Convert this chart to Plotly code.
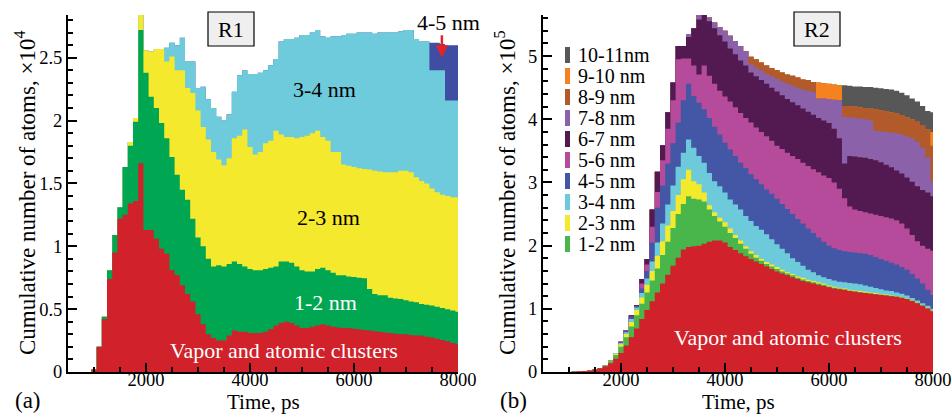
import plotly.graph_objects as go

SERIF = "'Liberation Serif', 'Times New Roman', Times, 'DejaVu Serif', serif"
BIN = 100  # ps, width of each time bin

# ---------------- (a) R1: cumulative atoms (x10^4), bins centred on time_a ----------------
time_a = list(range(1000, 8001, 100))

a_vapor = [0.02, 0.20, 0.42, 0.74, 0.95, 1.22, 1.25, 1.34, 1.36, 1.66,
           1.13, 1.13, 1.06, 0.98, 0.94, 0.81, 0.77, 0.69, 0.62, 0.56,
           0.46, 0.38, 0.30, 0.27, 0.25, 0.25, 0.29, 0.33, 0.32, 0.32,
           0.31, 0.31, 0.31, 0.32, 0.34, 0.37, 0.39, 0.40, 0.39, 0.37,
           0.35, 0.35, 0.36, 0.37, 0.38, 0.37, 0.36, 0.355, 0.35, 0.35,
           0.345, 0.34, 0.335, 0.33, 0.325, 0.32, 0.315, 0.31, 0.305, 0.30,
           0.30, 0.295, 0.29, 0.29, 0.28, 0.275, 0.265, 0.255, 0.245, 0.23, 0.22]
a_top_1_2 = [0.02, 0.20, 0.44, 0.81, 1.09, 1.31, 1.63, 1.80, 1.99, 2.72,
             2.38, 2.19, 2.10, 1.98, 1.86, 1.71, 1.57, 1.45, 1.37, 1.22,
             1.07, 1.00, 0.90, 0.84, 0.85, 0.84, 0.86, 0.88, 0.86, 0.84,
             0.82, 0.81, 0.81, 0.82, 0.83, 0.84, 0.88, 0.88, 0.87, 0.84,
             0.81, 0.80, 0.80, 0.82, 0.83, 0.81, 0.79, 0.77, 0.77, 0.76,
             0.755, 0.75, 0.745, 0.66, 0.62, 0.61, 0.61, 0.59, 0.585, 0.58,
             0.57, 0.56, 0.555, 0.54, 0.535, 0.53, 0.52, 0.51, 0.50, 0.49, 0.48]
a_top_2_3 = [0.02, 0.20, 0.44, 0.81, 1.09, 1.31, 1.63, 1.83, 2.02, 2.84,
             2.56, 2.55, 2.57, 2.57, 2.47, 2.51, 2.40, 2.40, 2.26, 2.22,
             2.08, 1.95, 1.85, 1.75, 1.69, 1.645, 1.70, 1.86, 1.88, 1.93,
             1.79, 1.73, 1.75, 1.82, 1.84, 1.92, 1.89, 1.87, 1.87, 1.86,
             1.87, 1.88, 1.90, 1.92, 1.87, 1.84, 1.75, 1.75, 1.65, 1.64,
             1.63, 1.62, 1.615, 1.61, 1.60, 1.595, 1.59, 1.59, 1.59, 1.60,
             1.60, 1.59, 1.55, 1.52, 1.50, 1.46, 1.43, 1.41, 1.40, 1.39, 1.39]
a_top_3_4 = [0.02, 0.20, 0.44, 0.81, 1.09, 1.31, 1.63, 1.83, 2.02, 2.84,
             2.56, 2.55, 2.57, 2.57, 2.58, 2.62, 2.60, 2.66, 2.47, 2.47,
             2.26, 2.27, 2.17, 2.10, 2.03, 2.00, 2.05, 2.23, 2.36, 2.40,
             2.37, 2.37, 2.38, 2.40, 2.44, 2.49, 2.63, 2.65, 2.65, 2.66,
             2.68, 2.68, 2.70, 2.72, 2.67, 2.66, 2.67, 2.67, 2.68, 2.69,
             2.69, 2.70, 2.70, 2.70, 2.69, 2.70, 2.70, 2.70, 2.70, 2.71,
             2.72, 2.72, 2.65, 2.63, 2.63, 2.40, 2.40, 2.40, 2.16, 2.16, 2.16]
a_top_4_5 = [0.02, 0.20, 0.44, 0.81, 1.09, 1.31, 1.63, 1.83, 2.02, 2.84,
             2.56, 2.55, 2.57, 2.57, 2.58, 2.62, 2.60, 2.66, 2.47, 2.47,
             2.26, 2.27, 2.17, 2.10, 2.03, 2.00, 2.05, 2.23, 2.36, 2.40,
             2.37, 2.37, 2.38, 2.40, 2.44, 2.49, 2.63, 2.65, 2.65, 2.66,
             2.68, 2.68, 2.70, 2.72, 2.67, 2.66, 2.67, 2.67, 2.68, 2.69,
             2.69, 2.70, 2.70, 2.70, 2.69, 2.70, 2.70, 2.70, 2.70, 2.71,
             2.72, 2.72, 2.65, 2.63, 2.63, 2.62, 2.62, 2.61, 2.60, 2.60, 2.60]

# ---------------- (b) R2: cumulative atoms (x10^5), bins centred on time_b ----------------
time_b = list(range(1100, 8001, 100))

b_vapor = [0.005, 0.01, 0.015, 0.025, 0.04, 0.06, 0.09, 0.14, 0.21,
           0.30, 0.42, 0.55, 0.69, 0.84, 0.98, 1.12, 1.26, 1.40, 1.54,
           1.68, 1.81, 1.94, 1.98, 1.99, 2.00, 2.03, 2.06, 2.08, 2.08,
           2.05, 1.98, 1.93, 1.88, 1.83, 1.79, 1.75, 1.71, 1.67, 1.63,
           1.59, 1.56, 1.53, 1.50, 1.47, 1.44, 1.42, 1.40, 1.38, 1.36,
           1.34, 1.32, 1.31, 1.30, 1.28, 1.27, 1.26, 1.25, 1.24, 1.23,
           1.22, 1.21, 1.20, 1.19, 1.175, 1.155, 1.125, 1.09, 1.05, 1.005, 0.96]
b_top_1_2 = [0.005, 0.01, 0.015, 0.025, 0.04, 0.065, 0.10, 0.17, 0.27,
             0.40, 0.55, 0.72, 0.90, 1.08, 1.26, 1.45, 1.64, 1.85, 2.06,
             2.28, 2.50, 2.66, 2.78, 2.74, 2.73, 2.70, 2.57, 2.47, 2.38,
             2.30, 2.20, 2.12, 2.03, 1.95, 1.87, 1.81, 1.76, 1.71, 1.67,
             1.63, 1.59, 1.56, 1.53, 1.49, 1.465, 1.44, 1.42, 1.40, 1.38,
             1.355, 1.335, 1.32, 1.305, 1.29, 1.277, 1.266, 1.255, 1.245, 1.235,
             1.225, 1.215, 1.205, 1.195, 1.18, 1.16, 1.13, 1.095, 1.055, 1.01, 0.963]
b_top_2_3 = [0.005, 0.01, 0.015, 0.025, 0.04, 0.065, 0.10, 0.18, 0.29,
             0.44, 0.60, 0.79, 0.98, 1.18, 1.38, 1.60, 1.84, 2.07, 2.32,
             2.55, 2.80, 3.05, 3.20, 3.02, 2.97, 2.84, 2.64, 2.53, 2.44,
             2.37, 2.27, 2.17, 2.08, 1.99, 1.91, 1.85, 1.79, 1.74, 1.70,
             1.66, 1.62, 1.58, 1.55, 1.51, 1.49, 1.46, 1.44, 1.42, 1.40,
             1.37, 1.35, 1.335, 1.32, 1.30, 1.29, 1.28, 1.27, 1.26, 1.25,
             1.235, 1.225, 1.215, 1.20, 1.185, 1.165, 1.135, 1.10, 1.06, 1.015, 0.968]
b_top_3_4 = [0.005, 0.01, 0.015, 0.025, 0.04, 0.065, 0.10, 0.18, 0.30,
             0.46, 0.63, 0.84, 1.02, 1.25, 1.48, 1.75, 2.05, 2.35, 2.65,
             2.95, 3.25, 3.47, 3.68, 3.55, 3.42, 3.31, 3.15, 3.02, 2.94,
             2.84, 2.73, 2.65, 2.57, 2.47, 2.39, 2.31, 2.25, 2.18, 2.10,
             2.02, 1.95, 1.88, 1.80, 1.74, 1.68, 1.62, 1.58, 1.53, 1.50,
             1.47, 1.45, 1.43, 1.42, 1.41, 1.40, 1.39, 1.37, 1.35, 1.33,
             1.31, 1.29, 1.28, 1.26, 1.24, 1.21, 1.17, 1.13, 1.09, 1.05, 1.00]
b_top_4_5 = [0.005, 0.01, 0.015, 0.025, 0.04, 0.065, 0.10, 0.18, 0.30,
             0.47, 0.65, 0.87, 1.04, 1.32, 1.60, 2.05, 2.60, 2.95, 3.30,
             3.62, 3.95, 4.30, 4.56, 4.37, 4.26, 4.16, 4.02, 3.88, 3.76,
             3.63, 3.52, 3.42, 3.31, 3.23, 3.13, 3.05, 2.97, 2.89, 2.82,
             2.74, 2.66, 2.58, 2.50, 2.42, 2.35, 2.27, 2.20, 2.13, 2.06,
             2.00, 1.96, 1.93, 1.91, 1.90, 1.89, 1.88, 1.87, 1.85, 1.82,
             1.79, 1.76, 1.73, 1.70, 1.66, 1.62, 1.55, 1.48, 1.40, 1.30, 1.22]
b_top_5_6 = [0.005, 0.01, 0.015, 0.025, 0.04, 0.065, 0.10, 0.18, 0.30,
             0.48, 0.66, 0.88, 1.05, 1.40, 1.70, 2.30, 2.85, 3.35, 3.85,
             4.30, 4.95, 4.96, 4.96, 4.85, 4.71, 4.85, 4.69, 4.56, 4.45,
             4.36, 4.28, 4.19, 4.10, 4.02, 3.95, 3.87, 3.80, 3.73, 3.66,
             3.58, 3.53, 3.47, 3.42, 3.37, 3.31, 3.26, 3.21, 3.16, 3.11,
             3.07, 3.00, 2.90, 2.75, 2.62, 2.57, 2.55, 2.53, 2.51, 2.49,
             2.47, 2.45, 2.43, 2.40, 2.35, 2.27, 2.17, 2.07, 2.00, 1.95, 1.92]
b_top_6_7 = [0.005, 0.01, 0.015, 0.025, 0.04, 0.065, 0.10, 0.18, 0.30,
             0.48, 0.66, 0.90, 1.06, 1.47, 1.79, 2.57, 3.17, 3.59, 4.11,
             4.58, 5.16, 5.16, 5.30, 5.44, 5.58, 5.67, 5.55, 5.44, 5.33,
             5.23, 5.12, 5.03, 4.93, 4.85, 4.74, 4.68, 4.62, 4.56, 4.50,
             4.44, 4.38, 4.32, 4.27, 4.22, 4.17, 4.12, 4.07, 4.02, 3.98,
             3.94, 3.85, 3.70, 3.30, 3.42, 3.41, 3.40, 3.39, 3.37, 3.35,
             3.32, 3.28, 3.24, 3.19, 3.14, 3.08, 3.01, 2.94, 2.88, 2.84, 2.78]
b_top_7_8 = [0.005, 0.01, 0.015, 0.025, 0.04, 0.065, 0.10, 0.18, 0.30,
             0.48, 0.66, 0.90, 1.06, 1.47, 1.79, 2.57, 3.17, 3.59, 4.11,
             4.58, 5.16, 5.16, 5.35, 5.44, 5.66, 5.67, 5.61, 5.53, 5.46,
             5.40, 5.32, 5.24, 5.16, 5.08, 4.87, 4.82, 4.77, 4.72, 4.68,
             4.64, 4.60, 4.56, 4.53, 4.50, 4.47, 4.45, 4.43, 4.33, 4.33,
             4.32, 4.31, 4.30, 4.04, 4.03, 4.02, 4.01, 4.00, 3.98, 3.82,
             3.81, 3.80, 3.79, 3.78, 3.76, 3.73, 3.70, 3.64, 3.55, 3.40, 3.02]
b_top_8_9 = [0.005, 0.01, 0.015, 0.025, 0.04, 0.065, 0.10, 0.18, 0.30,
             0.48, 0.66, 0.90, 1.06, 1.47, 1.79, 2.57, 3.17, 3.59, 4.11,
             4.58, 5.16, 5.16, 5.35, 5.44, 5.66, 5.67, 5.61, 5.53, 5.46,
             5.40, 5.32, 5.24, 5.16, 5.08, 4.99, 4.95, 4.90, 4.85, 4.81,
             4.78, 4.74, 4.71, 4.69, 4.66, 4.63, 4.62, 4.59, 4.33, 4.33,
             4.32, 4.31, 4.30, 4.21, 4.21, 4.20, 4.19, 4.18, 4.17, 4.16,
             4.14, 4.13, 4.11, 4.09, 4.06, 4.03, 4.00, 3.96, 3.91, 3.84, 3.58]
b_top_9_10 = [0.005, 0.01, 0.015, 0.025, 0.04, 0.065, 0.10, 0.18, 0.30,
              0.48, 0.66, 0.90, 1.06, 1.47, 1.79, 2.57, 3.17, 3.59, 4.11,
              4.58, 5.16, 5.16, 5.35, 5.44, 5.66, 5.67, 5.61, 5.53, 5.46,
              5.40, 5.32, 5.24, 5.16, 5.08, 4.99, 4.95, 4.90, 4.85, 4.81,
              4.78, 4.74, 4.71, 4.69, 4.66, 4.63, 4.62, 4.59, 4.58, 4.57,
              4.56, 4.55, 4.54, 4.21, 4.21, 4.20, 4.19, 4.18, 4.17, 4.16,
              4.14, 4.13, 4.11, 4.09, 4.06, 4.03, 4.00, 3.96, 3.91, 3.84, 3.80]
b_top_10_11 = [0.005, 0.01, 0.015, 0.025, 0.04, 0.065, 0.10, 0.18, 0.30,
               0.48, 0.66, 0.90, 1.06, 1.47, 1.79, 2.57, 3.17, 3.59, 4.11,
               4.58, 5.16, 5.16, 5.35, 5.44, 5.66, 5.67, 5.61, 5.53, 5.46,
               5.40, 5.32, 5.24, 5.16, 5.08, 4.99, 4.95, 4.90, 4.85, 4.81,
               4.78, 4.74, 4.71, 4.69, 4.66, 4.63, 4.62, 4.59, 4.58, 4.57,
               4.56, 4.55, 4.54, 4.54, 4.53, 4.52, 4.52, 4.51, 4.51, 4.50,
               4.49, 4.48, 4.47, 4.45, 4.42, 4.38, 4.33, 4.28, 4.21, 4.13, 4.11]

# size-class labels and colours
labels_b = ["10-11nm", "9-10 nm", "8-9 nm", "7-8 nm", "6-7 nm",
            "5-6 nm", "4-5 nm", "3-4 nm", "2-3 nm", "1-2 nm"]
colors_b = ["#575757", "#f5821f", "#b25a2a", "#8b61a9", "#531a52",
            "#b64a9b", "#4456a6", "#6ccadb", "#f3ea2b", "#48b64a"]
RED = "#d1212a"

layers_a = [
    (a_top_4_5, "#3f4ea3"),
    (a_top_3_4, "#6ecbdc"),
    (a_top_2_3, "#f4e92c"),
    (a_top_1_2, "#00a651"),
    (a_vapor, RED),
]
layers_b = list(zip([b_top_10_11, b_top_9_10, b_top_8_9, b_top_7_8, b_top_6_7,
                     b_top_5_6, b_top_4_5, b_top_3_4, b_top_2_3, b_top_1_2],
                    colors_b)) + [(b_vapor, RED)]


def edges(times):
    return [t - BIN / 2 for t in times] + [times[-1] + BIN / 2]


def closed(vals):
    return list(vals) + [vals[-1]]


fig = go.Figure()

# outermost cumulative level first, each inner level painted over it
for times, layers, xa, ya in [(time_a, layers_a, "x", "y"), (time_b, layers_b, "x2", "y2")]:
    for top, col in layers:
        fig.add_trace(go.Scatter(
            x=edges(times), y=closed(top), mode="lines",
            line=dict(width=0, shape="hv", color=col),
            fill="tozeroy", fillcolor=col,
            xaxis=xa, yaxis=ya, showlegend=False, hoverinfo="skip"))

W, H = 952, 416
TICKFONT = dict(family=SERIF, size=18.5, color="black")


def xaxis(domain, anchor):
    return dict(domain=domain, anchor=anchor, range=[500, 8000],
                tick0=0, dtick=2000, ticks="inside", ticklen=9, tickwidth=2,
                tickcolor="black", showline=True, linecolor="black", linewidth=2,
                showgrid=False, zeroline=False, tickfont=TICKFONT,
                ticklabelstandoff=-10,
                minor=dict(tick0=0, dtick=500, ticks="inside", ticklen=5,
                           tickwidth=1.5, tickcolor="black", showgrid=False),
                automargin=False)


def yaxis(domain, anchor, top, dtick, mdtick):
    return dict(domain=domain, anchor=anchor, range=[0, top],
                tick0=0, dtick=dtick, ticks="inside", ticklen=9, tickwidth=2,
                tickcolor="black", showline=True, linecolor="black", linewidth=2,
                showgrid=False, zeroline=False, tickfont=TICKFONT,
                minor=dict(tick0=0, dtick=mdtick, ticks="inside", ticklen=5,
                           tickwidth=1.5, tickcolor="black", showgrid=False),
                automargin=False)


ydom = [(H - 372) / H, (H - 15) / H]
fig.update_layout(
    width=W, height=H, margin=dict(l=0, r=0, t=0, b=0),
    paper_bgcolor="white", plot_bgcolor="white",
    xaxis=xaxis([68 / W, 458 / W], "y"),
    yaxis=yaxis(ydom, "x", 2.84, 0.5, 0.1),
    xaxis2=xaxis([543 / W, 933 / W], "y2"),
    yaxis2=yaxis(ydom, "x2", 5.65, 1, 0.2),
    font=dict(family=SERIF, color="black"),
)

ann = []
shapes = []


def text(x, y, s, xref, yref, color="black", size=22, xanchor="center",
         yanchor="middle", angle=0):
    ann.append(dict(x=x, y=y, xref=xref, yref=yref, text=s, showarrow=False,
                    xanchor=xanchor, yanchor=yanchor, textangle=angle,
                    font=dict(family=SERIF, size=size, color=color)))


# axis titles
ymid = 1 - 193 / H
text(25 / W, ymid, "Cumulative number of atoms, ×10<sup>4</sup>", "paper", "paper", size=23, angle=-90)
text(505 / W, ymid, "Cumulative number of atoms, ×10<sup>5</sup>", "paper", "paper", size=23, angle=-90)
text(263 / W, 0.5 / H, "Time, ps", "paper", "paper", size=21, yanchor="bottom")
text(738 / W, 0.5 / H, "Time, ps", "paper", "paper", size=21, yanchor="bottom")

# panel (a) labels
text(5440, 2.25, "3-4 nm", "x", "y")
text(5500, 1.23, "2-3 nm", "x", "y")
text(5460, 0.55, "1-2 nm", "x", "y", color="white")
text(4650, 0.175, "Vapor and atomic clusters", "x", "y", color="white")
text(7810, 2.78, "4-5 nm", "x", "y")
ann.append(dict(x=7690, y=2.5, xref="x", yref="y", ax=0, ay=-24, text="",
                showarrow=True, arrowhead=2, arrowsize=1, arrowwidth=2.5,
                arrowcolor="#e0242b"))

# panel (b) label
text(5210, 0.54, "Vapor and atomic clusters", "x2", "y2", color="white")

# run boxes
for cx, label in [(231, "R1"), (817, "R2")]:
    shapes.append(dict(type="rect", xref="paper", yref="paper",
                       x0=(cx - 23) / W, x1=(cx + 23) / W,
                       y0=1 - 46 / H, y1=1 - 12 / H,
                       fillcolor="#efefef", line=dict(color="black", width=1.2)))
    text(cx / W, 1 - 29.5 / H, label, "paper", "paper")

# panel letters
text(13 / W, 1 / H, "(a)", "paper", "paper", xanchor="left", yanchor="bottom", size=23)
text(498 / W, 1 / H, "(b)", "paper", "paper", xanchor="left", yanchor="bottom", size=23)

# size-class key for panel (b)
for i, (lab, col) in enumerate(zip(labels_b, colors_b)):
    yc = 55 + i * 21.0
    shapes.append(dict(type="rect", xref="paper", yref="paper",
                       x0=565 / W, x1=570 / W,
                       y0=1 - (yc + 8) / H, y1=1 - (yc - 8) / H,
                       fillcolor=col, line=dict(width=0)))
    text(576 / W, 1 - yc / H, lab, "paper", "paper", size=20, xanchor="left")

fig.update_layout(annotations=ann, shapes=shapes)
fig.write_html("out.html")
